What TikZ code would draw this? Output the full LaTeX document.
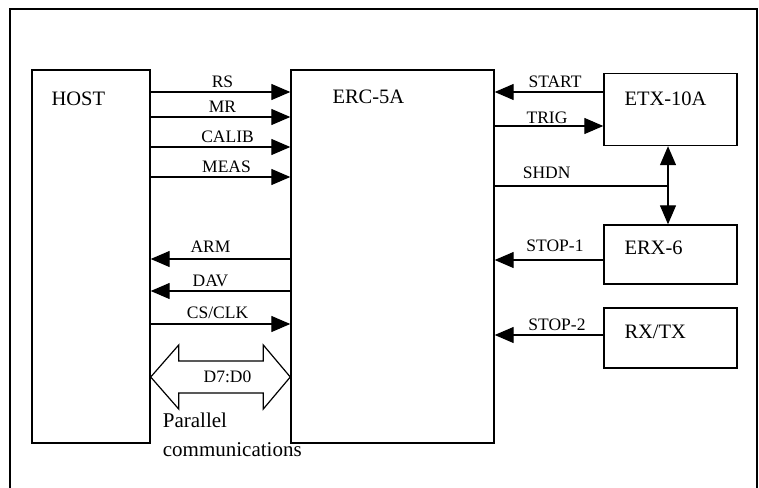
\documentclass[tikz,border=0pt]{standalone}
\usepackage{fontspec}
\setmainfont{Liberation Serif}
\usetikzlibrary{arrows.meta,calc}
\begin{document}
\begin{tikzpicture}[x=1pt,y=-1pt,
  blk/.style={draw, line width=1.4pt, inner sep=0pt},
  sig/.style={line width=1.3pt},
  tip/.tip={Triangle[length=19pt,width=16pt]},
  lbl/.style={font=\fontsize{17.5}{20}\selectfont, anchor=base, inner sep=0pt, yshift=5pt},
  boxname/.style={font=\fontsize{20.5}{24}\selectfont, anchor=west, inner sep=0pt}]
\useasboundingbox (0,0) rectangle (759,487);

% outer frame, open at the bottom
\draw[line width=2pt] (10,500) -- (10,9) -- (757,9) -- (757,500);

% blocks
\node[blk, minimum width=118pt, minimum height=373pt] (host) at (91,256.5) {};
\node[blk, minimum width=203pt, minimum height=373pt] (erc)  at (392.5,256.5) {};
\node[blk, minimum width=133pt, minimum height=72pt]  (etx)  at (670.5,109.5) {};
\node[blk, minimum width=133pt, minimum height=59pt]  (erx)  at (670.5,254.5) {};
\node[blk, minimum width=133pt, minimum height=60pt]  (rxtx) at (670.5,338) {};

\node[boxname] at ($(host.north west)+(20,30)$) {HOST};
\node[boxname] at ($(erc.north west)+(42,28)$) {ERC-5A};
\node[boxname] at ($(etx.north west)+(21,26)$) {ETX-10A};
\node[boxname] at ($(erx.north west)+(21,24)$) {ERX-6};
\node[boxname] at ($(rxtx.north west)+(21,25)$) {RX/TX};

% host <-> controller lines
\draw[sig,-tip] (host.east |- 0,92)  -- node[lbl,xshift=2pt] {RS}    (erc.west |- 0,92);
\draw[sig,-tip] (host.east |- 0,117) -- node[lbl,xshift=2pt] {MR}    (erc.west |- 0,117);
\draw[sig,-tip] (host.east |- 0,147) -- node[lbl,xshift=7pt] {CALIB} (erc.west |- 0,147);
\draw[sig,-tip] (host.east |- 0,177) -- node[lbl,xshift=6pt] {MEAS}  (erc.west |- 0,177);
\draw[sig,tip-] (host.east |- 0,259) -- node[lbl,xshift=-10pt,yshift=2pt] {ARM} (erc.west |- 0,259);
\draw[sig,tip-] (host.east |- 0,291) -- node[lbl,xshift=-10pt] {DAV} (erc.west |- 0,291);
\draw[sig,-tip] (host.east |- 0,324) -- node[lbl,xshift=-3pt,yshift=1pt] {CS/CLK} (erc.west |- 0,324);

% parallel data bus
\coordinate (pa) at (host.east |- 0,377);
\coordinate (pb) at (erc.west |- 0,377);
\draw[line width=1.2pt]
  (pa) -- ($(pa)+(28,-32)$) -- ($(pa)+(28,-16)$) -- ($(pb)+(-27,-16)$) -- ($(pb)+(-27,-32)$)
  -- (pb) -- ($(pb)+(-27,32)$) -- ($(pb)+(-27,16)$) -- ($(pa)+(28,16)$) -- ($(pa)+(28,32)$) -- cycle;
\node[font=\fontsize{17.5}{20}\selectfont] at ($(pa)!0.55!(pb)$) {D7:D0};

\node[font=\fontsize{21}{25}\selectfont, anchor=north west, inner sep=0pt, align=left]
  at ($(host.south east)+(12,-31)$) {Parallel\\[4pt]communications};

% timing units
\draw[sig,tip-] (erc.east |- 0,92)  -- node[lbl,xshift=6pt] {START} (etx.west |- 0,92);
\draw[sig,-tip] (erc.east |- 0,126) -- node[lbl,xshift=-2pt,yshift=-2pt] {TRIG} (etx.west |- 0,126);
\coordinate (sj) at (668,186);
\draw[sig] (erc.east |- sj) -- node[lbl,pos=0.3,yshift=3pt] {SHDN} (sj);
\draw[sig,tip-tip] (etx.south -| sj) -- (erx.north -| sj);
\draw[sig,tip-] (erc.east |- 0,260) -- node[lbl,xshift=6pt,yshift=4pt] {STOP-1} (erx.west |- 0,260);
\draw[sig,tip-] (erc.east |- 0,335) -- node[lbl,xshift=8pt] {STOP-2} (rxtx.west |- 0,335);
\end{tikzpicture}
\end{document}
